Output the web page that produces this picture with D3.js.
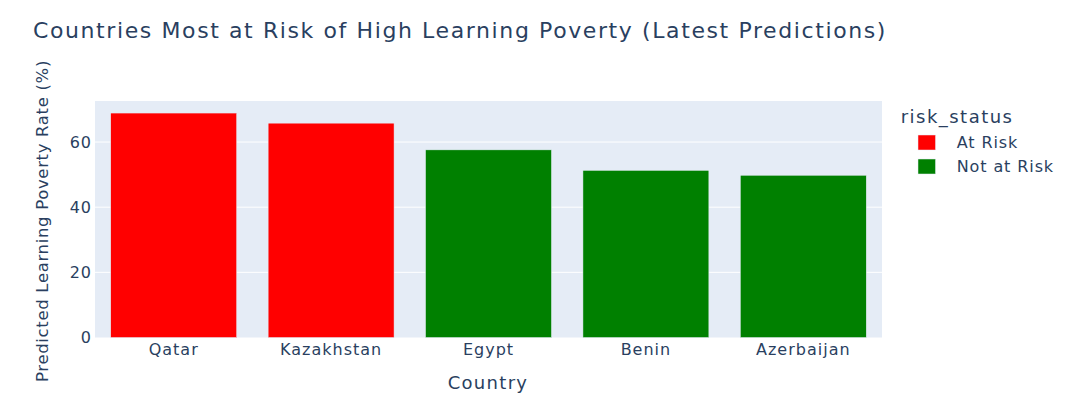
<!DOCTYPE html>
<html>
<head>
<meta charset="utf-8">
<script src="https://cdn.jsdelivr.net/npm/d3@7"></script>
<style>
  html, body { margin: 0; padding: 0; background: #fff; }
  svg { display: block; }
  text { font-family: "DejaVu Sans", Verdana, sans-serif; fill: #2a3f5f; }
</style>
</head>
<body>
<svg id="chart" width="1076" height="412"></svg>
<script>
const countries = ["Qatar", "Kazakhstan", "Egypt", "Benin", "Azerbaijan"];
const rates = [68.9, 65.8, 57.6, 51.3, 49.8];
const statuses = ["At Risk", "At Risk", "Not at Risk", "Not at Risk", "Not at Risk"];
const legendLabels = ["At Risk", "Not at Risk"];
const legendColors = ["#ff0000", "#008000"];
const yTicks = [0, 20, 40, 60];
const titleText = "Countries Most at Risk of High Learning Poverty (Latest Predictions)";
const xTitleText = "Country";
const yTitleText = "Predicted Learning Poverty Rate (%)";
const legendTitleText = "risk_status";

const svg = d3.select("#chart");
const plot = { left: 95, top: 101, right: 882, bottom: 337.5 };

const x = d3.scaleBand().domain(countries).range([plot.left, plot.right]).paddingInner(0.2).paddingOuter(0.1);
const y = d3.scaleLinear().domain([0, 72.6]).range([plot.bottom, plot.top]);
const color = d3.scaleOrdinal().domain(legendLabels).range(legendColors);

function fitSpacing(sel, target, size) {
  sel.attr("font-size", size).attr("letter-spacing", 0);
  const len = sel.node().getComputedTextLength();
  const n = sel.text().length;
  sel.attr("letter-spacing", (target - len) / n);
}

// plot background
svg.append("rect")
  .attr("x", plot.left).attr("y", plot.top)
  .attr("width", plot.right - plot.left).attr("height", plot.bottom - plot.top)
  .attr("fill", "#e5ecf6");

// gridlines
svg.append("g").selectAll("line").data(yTicks.filter(d => d > 0)).join("line")
  .attr("x1", plot.left).attr("x2", plot.right)
  .attr("y1", d => y(d)).attr("y2", d => y(d))
  .attr("stroke", "#ffffff").attr("stroke-width", 1);

// bars
const data = countries.map((c, i) => ({ c, v: rates[i], s: statuses[i] }));
svg.append("g").selectAll("rect").data(data).join("rect")
  .attr("x", d => x(d.c)).attr("width", x.bandwidth())
  .attr("y", d => y(d.v)).attr("height", d => y(0) - y(d.v))
  .attr("fill", d => color(d.s))
  .attr("stroke", "#e5ecf6").attr("stroke-width", 0.5);

// y axis
const yAxis = svg.append("g").attr("transform", `translate(${plot.left},0)`)
  .call(d3.axisLeft(y).tickValues(yTicks).tickSize(0).tickPadding(3));
yAxis.select(".domain").remove();
yAxis.selectAll("text").attr("font-size", 16).attr("letter-spacing", 1).attr("fill", "#2a3f5f")
  .attr("font-family", '"DejaVu Sans", Verdana, sans-serif').attr("dy", "0.32em");

// x axis
const xAxis = svg.append("g").attr("transform", `translate(0,${plot.bottom})`)
  .call(d3.axisBottom(x).tickSize(0).tickPadding(6));
xAxis.select(".domain").remove();
xAxis.selectAll("text").attr("font-size", 16).attr("letter-spacing", 1).attr("fill", "#2a3f5f")
  .attr("font-family", '"DejaVu Sans", Verdana, sans-serif').attr("dy", "0.71em");

// title
const t = svg.append("text").attr("x", 33).attr("y", 38).text(titleText);
fitSpacing(t, 854, 22);

// x title
const xt = svg.append("text").attr("x", 488).attr("y", 389).attr("text-anchor", "middle").text(xTitleText);
fitSpacing(xt, 80.7, 18);

// y title
const yt = svg.append("text").attr("transform", "translate(48,221) rotate(-90)")
  .attr("text-anchor", "middle").text(yTitleText);
fitSpacing(yt, 322, 16.5);

// legend
const lt = svg.append("text").attr("x", 900.7).attr("y", 123).text(legendTitleText);
fitSpacing(lt, 112.7, 18);
const lg = svg.append("g").selectAll("g").data(legendLabels).join("g")
  .attr("transform", (d, i) => `translate(0,${i * 24})`);
lg.append("rect").attr("x", 918).attr("y", 135).attr("width", 17.5).attr("height", 15)
  .attr("fill", d => color(d)).attr("stroke", "#e5ecf6").attr("stroke-width", 0.5);
lg.append("text").attr("x", 956.7).attr("y", 147.5).attr("font-size", 16).attr("letter-spacing", 0.9).text(d => d);
</script>
</body>
</html>
